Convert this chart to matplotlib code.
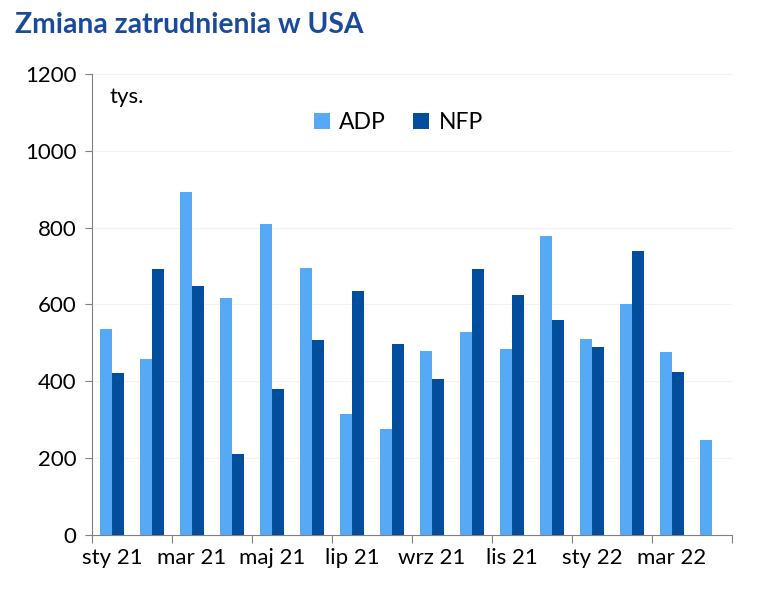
import matplotlib
matplotlib.use("Agg")
import matplotlib.pyplot as plt
import numpy as np

months = ["sty 21", "lut 21", "mar 21", "kwi 21", "maj 21", "cze 21", "lip 21", "sie 21",
          "wrz 21", "paź 21", "lis 21", "gru 21", "sty 22", "lut 22", "mar 22", "kwi 22"]
adp = [536, 457, 893, 617, 809, 694, 314, 276, 478, 529, 485, 779, 510, 600, 477, 247]
nfp = [423, 692, 649, 211, 380, 507, 636, 497, 407, 693, 625, 559, 490, 738, 425, np.nan]

c_adp = "#56aaf5"
c_nfp = "#004e9c"
title_color = "#1a4b9b"

plt.rcParams['font.family'] = ['Lato', 'DejaVu Sans']

fig = plt.figure(figsize=(7.66, 5.90), dpi=100)
ax = fig.add_axes([0.1201, 0.0932, 0.8355, 0.7814])

x = np.arange(len(months))
w = 0.29
ax.bar(x - w / 2, adp, width=w, color=c_adp, label="ADP", zorder=3)
ax.bar(x + w / 2, nfp, width=w, color=c_nfp, label="NFP", zorder=3)

ax.set_xlim(-0.5, len(months) - 0.5)
ax.set_ylim(0, 1200)
ax.set_yticks(np.arange(0, 1201, 200))
ax.tick_params(axis='y', labelsize=16, length=5, color="#808080", pad=6)
ax.yaxis.grid(True, color="#f2f2f2", linewidth=0.8, zorder=0)

ax.set_xticks(np.arange(-0.5, len(months), 2))
ax.set_xticklabels([])
ax.tick_params(axis='x', which='major', length=6, color="#808080")
ax.set_xticks(x[::2], minor=True)
ax.set_xticklabels(months[::2], minor=True)
ax.tick_params(axis='x', which='minor', length=0, labelsize=16, pad=9)

for s in ["top", "right"]:
    ax.spines[s].set_visible(False)
for s in ["left", "bottom"]:
    ax.spines[s].set_color("#808080")

fig.text(0.019, 0.958, "Zmiana zatrudnienia w USA", fontsize=20.3, fontweight='bold',
         color=title_color, va='center', ha='left')
fig.text(0.143, 0.835, "tys.", fontsize=16, va='center', ha='left')

fig.legend(loc='center', bbox_to_anchor=(0.52, 0.793), ncol=2, frameon=False,
           fontsize=16.5, handlelength=0.7, handleheight=0.7, handletextpad=0.4,
           columnspacing=1.2)

fig.savefig("out.png", dpi=100)
